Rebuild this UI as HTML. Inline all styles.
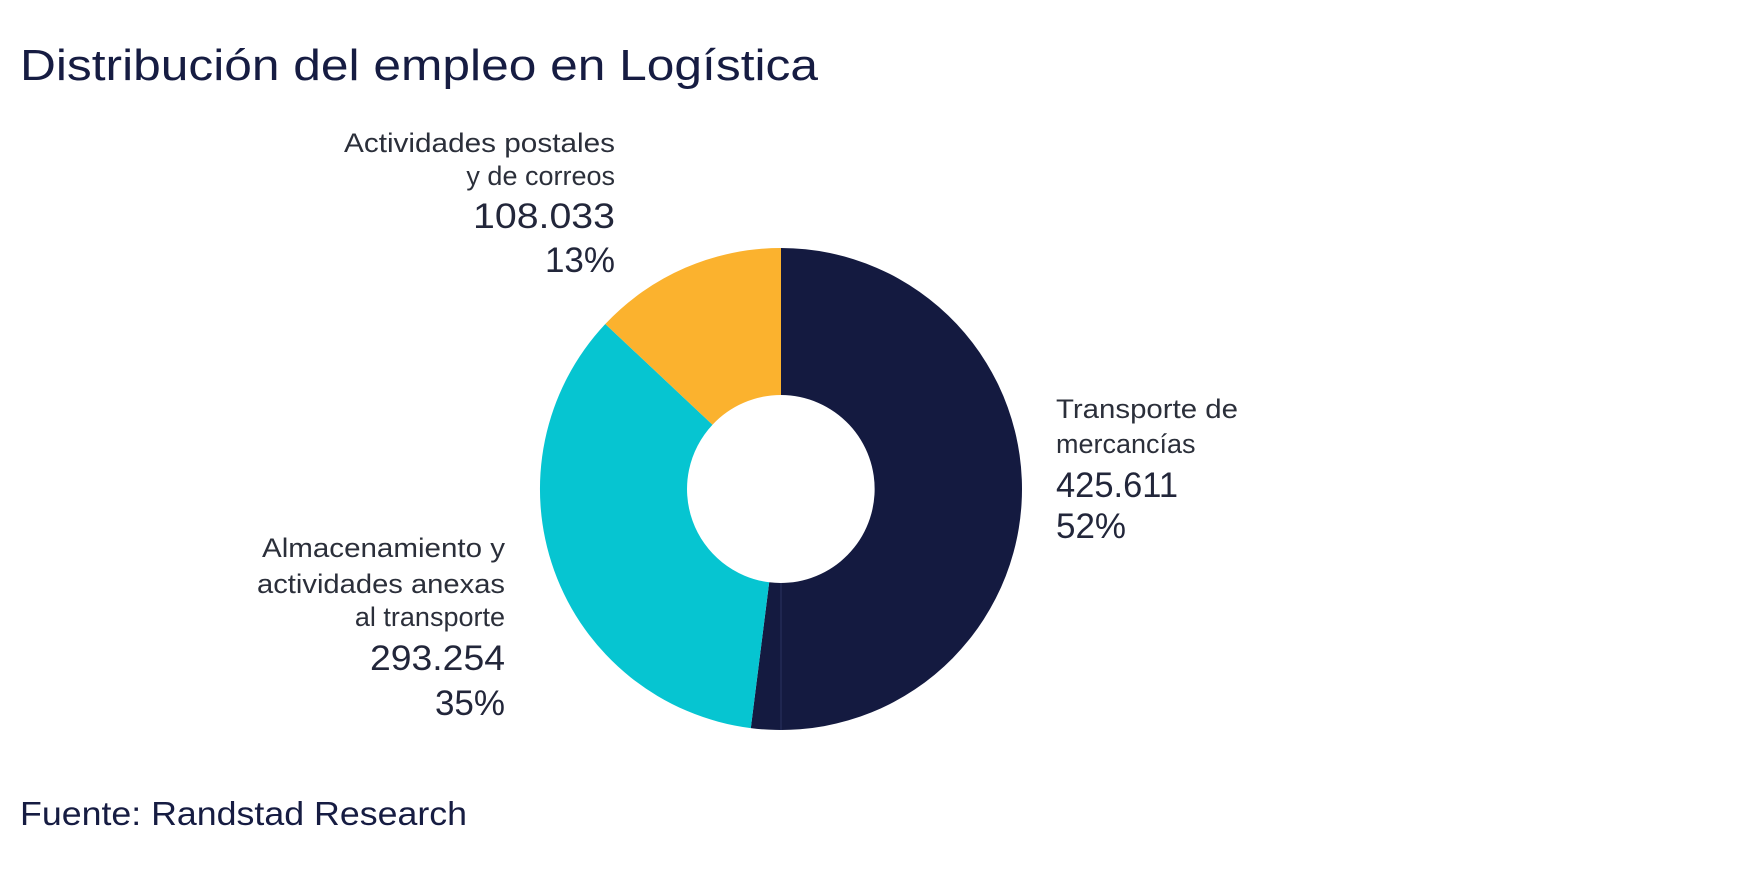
<!DOCTYPE html>
<html><head><meta charset="utf-8"><style>
html,body{margin:0;padding:0;background:#fff;width:1739px;height:877px;overflow:hidden}
svg{display:block}
text{font-family:"Liberation Sans",sans-serif}
</style></head><body>
<svg width="1739" height="877" viewBox="0 0 1739 877">
<rect width="1739" height="877" fill="#fff"/>
<text x="20" y="80" font-size="44" fill="#161c42" textLength="798" lengthAdjust="spacingAndGlyphs">Distribución del empleo en Logística</text>
<!-- donut -->
<path d="M781 248 A241 241 0 1 1 750.8 728.1 L769.2 582.3 A94 94 0 1 0 781 395 Z" fill="#141a40"/>
<path d="M750.8 728.1 A241 241 0 0 1 605.3 324 L712.5 424.7 A94 94 0 0 0 769.2 582.3 Z" fill="#06c5d1"/>
<path d="M605.3 324 A241 241 0 0 1 781 248 L781 395 A94 94 0 0 0 712.5 424.7 Z" fill="#fbb22e"/>
<line x1="781" y1="583" x2="781" y2="730" stroke="#2a3160" stroke-width="1"/>
<g fill="#2b2f3a" font-size="27">
<text x="615" y="152" text-anchor="end" textLength="271" lengthAdjust="spacingAndGlyphs">Actividades postales</text>
<text x="615" y="185" text-anchor="end">y de correos</text>
<text x="1056" y="418" textLength="182" lengthAdjust="spacingAndGlyphs">Transporte de</text>
<text x="1056" y="453">mercancías</text>
<text x="505" y="557" text-anchor="end" textLength="243" lengthAdjust="spacingAndGlyphs">Almacenamiento y</text>
<text x="505" y="593" text-anchor="end" textLength="248" lengthAdjust="spacingAndGlyphs">actividades anexas</text>
<text x="505" y="626" text-anchor="end">al transporte</text>
</g>
<g fill="#22263a" font-size="35">
<text x="615" y="228" text-anchor="end" textLength="142" lengthAdjust="spacingAndGlyphs">108.033</text>
<text x="615" y="272" text-anchor="end">13%</text>
<text x="1056" y="497" textLength="122" lengthAdjust="spacingAndGlyphs">425.611</text>
<text x="1056" y="538">52%</text>
<text x="505" y="670" text-anchor="end" textLength="135" lengthAdjust="spacingAndGlyphs">293.254</text>
<text x="505" y="715" text-anchor="end">35%</text>
</g>
<text x="20" y="825" font-size="33" fill="#161c42" textLength="447" lengthAdjust="spacingAndGlyphs">Fuente: Randstad Research</text>
</svg>
</body></html>
